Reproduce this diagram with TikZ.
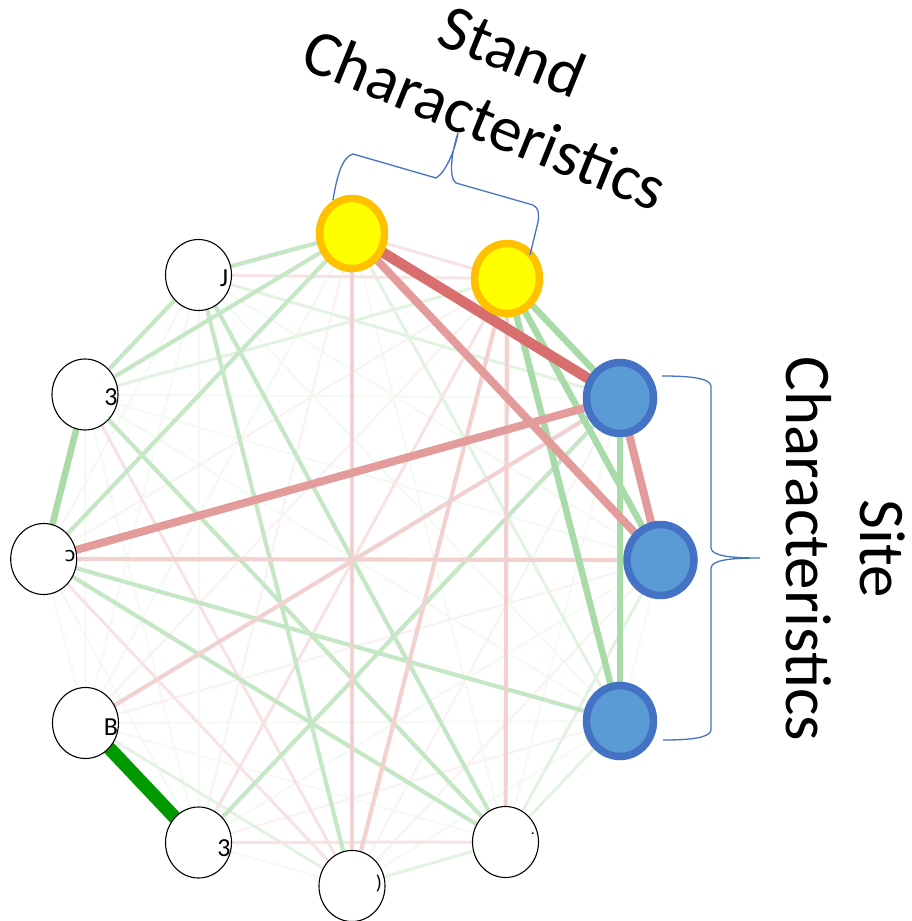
\documentclass[tikz,border=0pt]{standalone}
\usepackage{fontspec}
\setmainfont{Carlito}
\newfontfamily\dejavu{DejaVu Sans}
\usetikzlibrary{shapes.geometric}
\pgfdeclarelayer{links}
\pgfsetlayers{links,main}

\definecolor{stdfill}{HTML}{FFFF00}
\definecolor{stdring}{HTML}{FFC000}
\definecolor{sitefill}{HTML}{5B9BD5}
\definecolor{sitering}{HTML}{4472C4}
\definecolor{posdark}{HTML}{009900}
\definecolor{posmid}{HTML}{A8DBA8}
\definecolor{poslight}{HTML}{C6E7C6}
\definecolor{posfaint}{HTML}{E2F3E2}
\definecolor{posvfaint}{HTML}{F2FAF2}
\definecolor{negdark}{HTML}{D86E6E}
\definecolor{negmid}{HTML}{E39B9B}
\definecolor{neglight}{HTML}{F2D1D1}
\definecolor{negfaint}{HTML}{F7E3E3}
\definecolor{negvfaint}{HTML}{FBF1F1}

\tikzset{
  stdnode/.style={ellipse, draw=stdring, fill=stdfill, line width=7.5pt,
    minimum width=65pt, minimum height=70pt, inner sep=0pt},
  sitenode/.style={ellipse, draw=sitering, fill=sitefill, line width=7.5pt,
    minimum width=67pt, minimum height=71pt, inner sep=0pt},
  plainnode/.style={ellipse, draw=black, fill=white, line width=1.1pt,
    minimum width=66pt, minimum height=71pt, inner sep=0pt},
  frag/.style={inner sep=0pt, font=\fontsize{26}{26}\selectfont},
  pdark/.style={draw=posdark, line width=13.5pt},
  pmid/.style={draw=posmid, line width=6.5pt},
  plight/.style={draw=poslight, line width=4.2pt},
  pfaint/.style={draw=posfaint, line width=3pt},
  pvfaint/.style={draw=posvfaint, line width=2pt},
  ndark/.style={draw=negdark, line width=10.5pt},
  nmid/.style={draw=negmid, line width=8pt},
  nlight/.style={draw=neglight, line width=4.2pt},
  nfaint/.style={draw=negfaint, line width=3pt},
  nvfaint/.style={draw=negvfaint, line width=2pt},
  bracket/.style={draw=sitering, line width=1.3pt},
  heading/.style={align=center, inner sep=0pt, font=\fontsize{65}{74}\selectfont}
}

\begin{document}
\begin{tikzpicture}[x=1pt, y=-1pt]
  \useasboundingbox (0,0) rectangle (912,921);

  % variables on the ring
  \node[stdnode]   (n0)  at (352,233.5) {};
  \node[stdnode]   (n1)  at (507,278.5) {};
  \node[sitenode]  (n2)  at (620,398)   {};
  \node[sitenode]  (n3)  at (660.5,560) {};
  \node[sitenode]  (n4)  at (620,721)   {};
  \node[plainnode] (n5)  at (505.5,842) {};
  \node[plainnode] (n6)  at (352,886)   {};
  \node[plainnode] (n7)  at (198.5,842.5) {};
  \node[plainnode] (n8)  at (85.5,723)  {};
  \node[plainnode] (n9)  at (43.7,559)  {};
  \node[plainnode] (n10) at (85,394.5)  {};
  \node[plainnode] (n11) at (198.5,275) {};

  % label fragments at the right edge of the plain nodes
  \node[frag] (l11) at (224,278) {J};
  \node[frag] (l10) at (111,397) {3};
  \node[frag] (l9)  at (70,556)  {\dejavu\fontsize{20}{20}\selectfont ɔ};
  \node[frag] (l8)  at (111,727) {B};
  \node[frag] (l7)  at (224,848) {3};
  \node[frag] (l6)  at (379,884) {\fontsize{20}{20}\selectfont )};
  \node[frag] (l5)  at (533,834) {\fontsize{16}{16}\selectfont .};

  % correlation links, weakest first
  \begin{pgfonlayer}{links}
    \foreach \a/\b in {0/5,0/8,2/5,2/10,3/4,3/7,3/10,3/11,4/6,4/8,4/10,4/11,
                       5/8,6/7,7/9,7/10,7/11,8/9,8/10,8/11,9/11}
      \draw[pvfaint] (n\a.center) -- (n\b.center);
    \foreach \a/\b in {0/7,1/8,1/9,2/6,3/6,3/8,4/7}
      \draw[nvfaint] (n\a.center) -- (n\b.center);
    \foreach \a/\b in {0/4,1/10,2/11,3/5,4/5,5/6,6/8}
      \draw[pfaint] (n\a.center) -- (n\b.center);
    \foreach \a/\b in {0/1,1/7,5/7,1/11,6/9,6/10}
      \draw[nfaint] (n\a.center) -- (n\b.center);
    \foreach \a/\b in {0/9,0/10,0/11,2/7,4/9,5/9,5/10,5/11,6/11,10/11}
      \draw[plight] (n\a.center) -- (n\b.center);
    \foreach \a/\b in {0/6,1/5,1/6,2/8,3/9}
      \draw[nlight] (n\a.center) -- (n\b.center);
    \foreach \a/\b in {1/2,1/3,1/4,2/4,9/10}
      \draw[pmid] (n\a.center) -- (n\b.center);
    \foreach \a/\b in {0/3,2/3,2/9}
      \draw[nmid] (n\a.center) -- (n\b.center);
    \draw[ndark] (n0.center) -- (n2.center);
    \draw[pdark] (n7.center) -- (n8.center);
  \end{pgfonlayer}

  % group brackets
  \draw[bracket] (333,200) .. controls (337,176) and (342,157) .. (353,154)
    -- (436,178) .. controls (446,172) and (455,150) .. (458,133)
    .. controls (452,150) and (448,178) .. (456,183)
    -- (533,205) .. controls (539,208) and (539,214) .. (538,222)
    -- (530,255);
  \draw[bracket] (662,376) .. controls (690,376) and (710,378) .. (711,386)
    -- (711,548) .. controls (712,556) and (730,558) .. (760,558)
    .. controls (730,558) and (712,560) .. (711,568)
    -- (711,730) .. controls (710,738) and (690,740) .. (663,740);

  % group titles
  \node[heading, rotate=-22] (stand) at (499,85) {Stand\\Characteristics};
  \node[heading, rotate=-90] (site) at (846,549) {Site\\Characteristics};
\end{tikzpicture}
\end{document}
